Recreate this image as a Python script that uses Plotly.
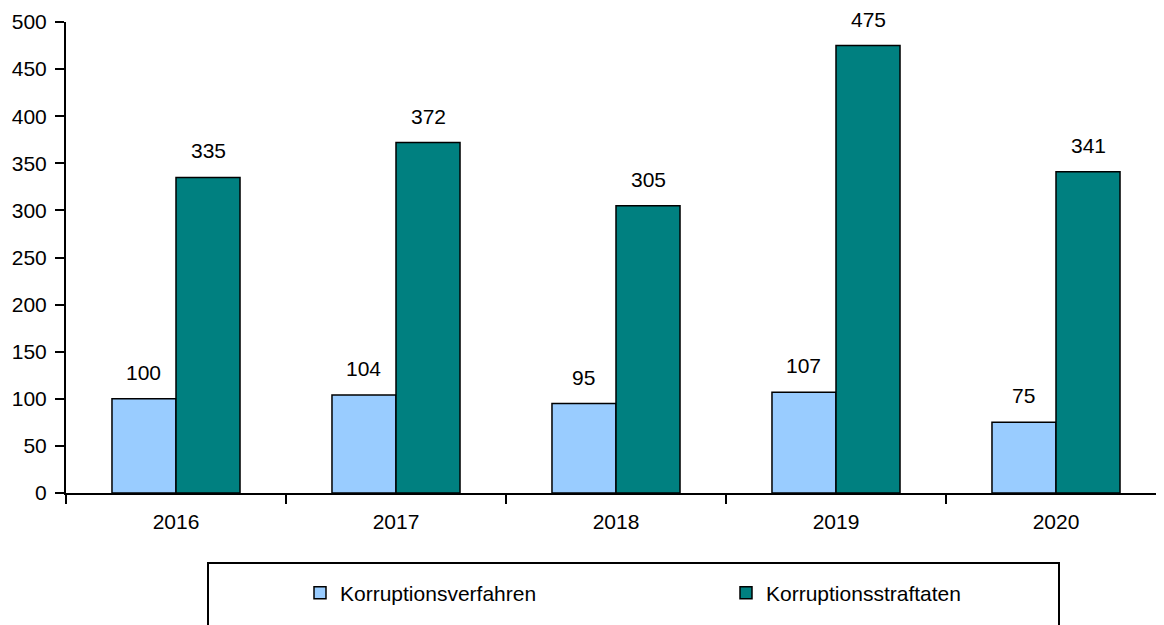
import plotly.graph_objects as go

years = ["2016", "2017", "2018", "2019", "2020"]
verfahren = [100, 104, 95, 107, 75]
straftaten = [335, 372, 305, 475, 341]
series_names = ["Korruptionsverfahren", "Korruptionsstraftaten"]
colors = ["#99CCFF", "#008080"]

FONT = "Liberation Sans, Arial, sans-serif"
FS = 20
W, H = 1164, 625
OFF = 8  # default page margin of the html body
# plot area in page pixels: x 66..1166, y 22..493
ML = 66 - OFF
MT = 22 - OFF
MR = W - (1166 - OFF)
MB = H - (493 - OFF)
BARGAP = 0.418

fig = go.Figure()
for name, vals, col in zip(series_names, [verfahren, straftaten], colors):
    fig.add_trace(go.Bar(
        x=years, y=vals, name=name,
        marker=dict(color=col, line=dict(color="black", width=1.5)),
    ))

# value labels above bars
bw = (1 - BARGAP) / 2
annotations = []
for k, vals in enumerate([verfahren, straftaten]):
    off = (k - 0.5) * bw
    for i, v in enumerate(vals):
        annotations.append(dict(
            x=i + off, y=v, xref="x", yref="y", text=str(v),
            showarrow=False, yanchor="bottom", yshift=13,
            font=dict(family=FONT, size=FS + 1, color="black"),
        ))

pw = W - ML - MR
ph = H - MT - MB

def px_to_paper_x(px):
    return (px - OFF - ML) / pw

def px_to_paper_y(py):
    return (H - MB - (py - OFF)) / ph

fig.update_layout(
    width=W, height=H,
    margin=dict(l=ML, r=MR, t=MT, b=MB, pad=0, autoexpand=False),
    paper_bgcolor="white", plot_bgcolor="white",
    barmode="group", bargap=BARGAP, bargroupgap=0,
    font=dict(family=FONT, size=FS, color="black"),
    annotations=annotations,
    showlegend=True,
    legend=dict(
        orientation="h", x=px_to_paper_x(300), xanchor="left",
        y=px_to_paper_y(593), yanchor="middle",
        entrywidth=381, entrywidthmode="pixels",
        bgcolor="rgba(0,0,0,0)", borderwidth=0,
        font=dict(family=FONT, size=21, color="black"),
    ),
    shapes=[dict(
        type="rect", xref="paper", yref="paper",
        x0=px_to_paper_x(208), x1=px_to_paper_x(1059),
        y0=px_to_paper_y(563), y1=px_to_paper_y(700),
        line=dict(color="black", width=2), fillcolor="rgba(0,0,0,0)",
    )],
)
fig.update_xaxes(
    range=[-0.5, 4.5], showline=True, linecolor="black", linewidth=2,
    ticks="outside", tickson="boundaries", ticklen=9, tickwidth=2, tickcolor="black",
    showgrid=False, zeroline=False, automargin=False, ticklabelstandoff=9,
    tickfont=dict(family=FONT, size=FS + 1, color="black"),
)
fig.update_yaxes(
    range=[0, 500], dtick=50, showline=True, linecolor="black", linewidth=2,
    ticks="outside", ticklen=9, tickwidth=2, tickcolor="black",
    showgrid=False, zeroline=False, automargin=False, ticklabelstandoff=4,
    tickfont=dict(family=FONT, size=FS + 1, color="black"),
)

fig.write_html("out.html")
